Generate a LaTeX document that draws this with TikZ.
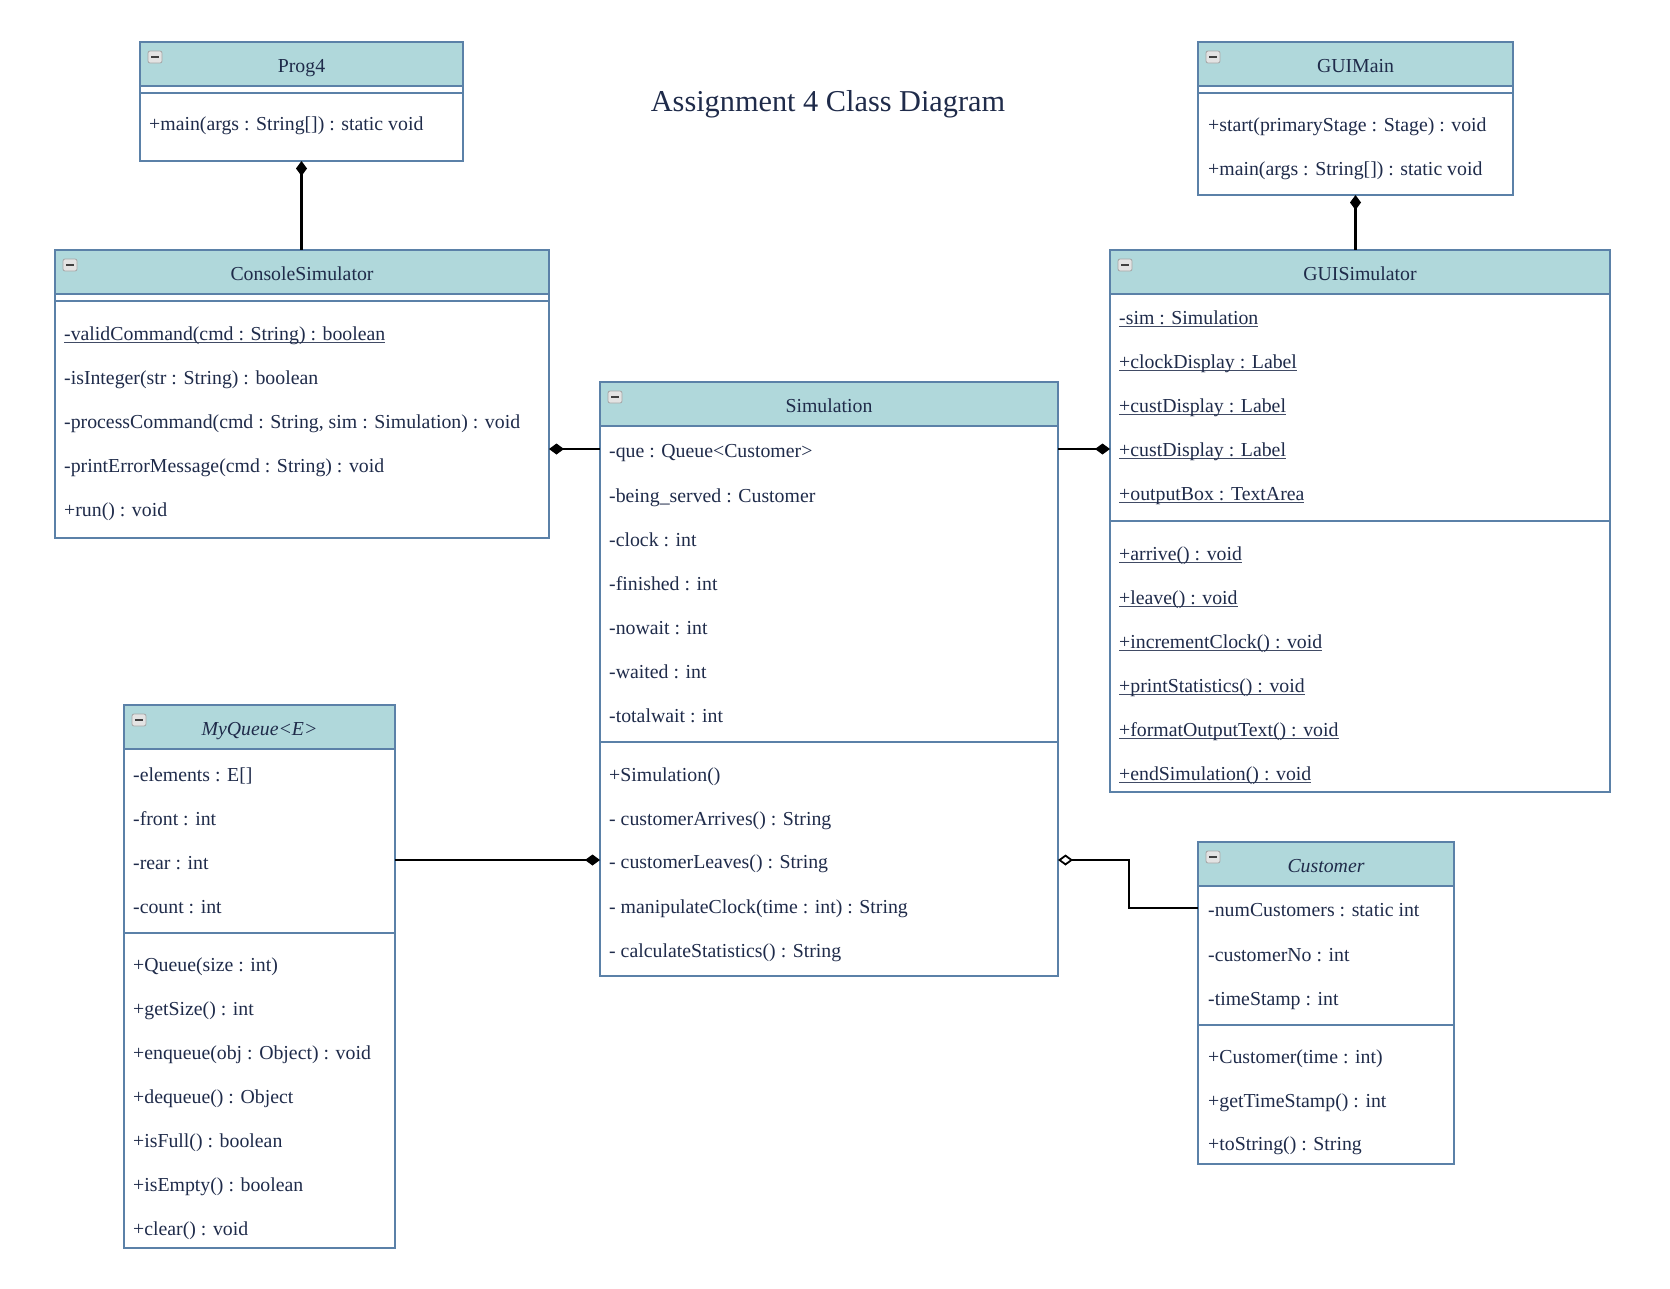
\documentclass[tikz,border=0pt]{standalone}
\usepackage{fontspec}
\setmainfont{Liberation Serif}
\usetikzlibrary{arrows.meta,calc}
\definecolor{hdrc}{HTML}{B0D8DB}
\definecolor{bdr}{HTML}{5B81A8}
\definecolor{txt}{HTML}{1F2B4A}
\newcommand\ulx[1]{\setbox0=\hbox{#1}\rlap{\color{txt!85}\rule[-3pt]{\wd0}{1.1pt}}\box0}
\begin{document}
\begin{tikzpicture}[x=1pt,y=-1pt,
  every node/.style={text=txt},
  box/.style={draw=bdr, line width=1.8pt, fill=white, anchor=north west, inner sep=0pt, outer sep=0pt},
  hdr/.style={draw=bdr, line width=1.8pt, fill=hdrc, anchor=north west, inner sep=0pt, outer sep=0pt, minimum height=44pt},
  cname/.style={font=\fontsize{19.8}{24}\selectfont, inner sep=0pt, text height=17pt, text depth=1pt},
  row/.style={font=\fontsize{19.8}{24}\selectfont, anchor=west, inner sep=0pt, text height=17pt, text depth=1pt},
  sepline/.style={draw=bdr, line width=1.8pt},
  minus/.style={draw=gray!70, fill=gray!22, line width=0.8pt, rounded corners=2pt, minimum width=14pt, minimum height=12pt, inner sep=0pt,
    path picture={\draw[line width=2pt, black!75] ([xshift=3pt]path picture bounding box.west) -- ([xshift=-3pt]path picture bounding box.east);}},
  conn/.style={draw=black, line width=2.2pt},
  comps/.style={conn, {Diamond[length=15pt,width=11pt]}-},
  compe/.style={conn, -{Diamond[length=15pt,width=11pt]}},
  aggs/.style={conn, {Diamond[open,fill=white,length=15pt,width=11pt,line width=1.8pt]}-}
]
\useasboundingbox[fill=white] (0,0) rectangle (1670,1288);

% Title
\node[font=\fontsize{30.3}{36}\selectfont, inner sep=0pt] (title) at (828,104) {Assignment 4 Class Diagram};

% ---------- Prog4 ----------
\node[box, minimum width=323pt, minimum height=119pt] (prog4) at (140,42) {};
\node[hdr, minimum width=323pt] (prog4h) at (140,42) {};
\node[cname] (prog4n) at (prog4h.center) {Prog4};
\node[minus] (prog4m) at ($(prog4.north west)+(15,15)$) {};
\draw[sepline] (140,93) -- (463,93);
\node[row] (prog4r1) at (149,122) {+main(args : String[]) : static void};

% ---------- GUIMain ----------
\node[box, minimum width=315pt, minimum height=153pt] (guimain) at (1198,42) {};
\node[hdr, minimum width=315pt] (guimainh) at (1198,42) {};
\node[cname] (guimainn) at (guimainh.center) {GUIMain};
\node[minus] (guimainm) at ($(guimain.north west)+(15,15)$) {};
\draw[sepline] (1198,93) -- (1513,93);
\node[row] (guimainr1) at (1208,123) {+start(primaryStage : Stage) : void};
\node[row] (guimainr2) at (1208,167) {+main(args : String[]) : static void};

% ---------- ConsoleSimulator ----------
\node[box, minimum width=494pt, minimum height=288pt] (console) at (55,250) {};
\node[hdr, minimum width=494pt] (consoleh) at (55,250) {};
\node[cname] (consolen) at (consoleh.center) {ConsoleSimulator};
\node[minus] (consolem) at ($(console.north west)+(15,15)$) {};
\draw[sepline] (55,301) -- (549,301);
\node[row] (conr1) at (64,332) {\ulx{-validCommand(cmd : String) : boolean}};
\node[row] (conr2) at (64,376) {-isInteger(str : String) : boolean};
\node[row] (conr3) at (64,420) {-processCommand(cmd : String, sim : Simulation) : void};
\node[row] (conr4) at (64,464) {-printErrorMessage(cmd : String) : void};
\node[row] (conr5) at (64,508) {+run() : void};

% ---------- Simulation ----------
\node[box, minimum width=458pt, minimum height=594pt] (sim) at (600,382) {};
\node[hdr, minimum width=458pt] (simh) at (600,382) {};
\node[cname] (simn) at (simh.center) {Simulation};
\node[minus] (simm) at ($(sim.north west)+(15,15)$) {};
\node[row] (simque) at (609,449) {-que : Queue<Customer>};
\node[row] (simr2) at (609,494) {-being\_served : Customer};
\node[row] (simr3) at (609,538) {-clock : int};
\node[row] (simr4) at (609,582) {-finished : int};
\node[row] (simr5) at (609,626) {-nowait : int};
\node[row] (simr6) at (609,670) {-waited : int};
\node[row] (simr7) at (609,714) {-totalwait : int};
\draw[sepline] (600,742) -- (1058,742);
\node[row] (simm1) at (609,773) {+Simulation()};
\node[row] (simm2) at (609,817) {- customerArrives() : String};
\node[row] (simleaves) at (609,860) {- customerLeaves() : String};
\node[row] (simm4) at (609,905) {- manipulateClock(time : int) : String};
\node[row] (simm5) at (609,949) {- calculateStatistics() : String};

% ---------- GUISimulator ----------
\node[box, minimum width=500pt, minimum height=542pt] (guisim) at (1110,250) {};
\node[hdr, minimum width=500pt] (guisimh) at (1110,250) {};
\node[cname] (guisimn) at (guisimh.center) {GUISimulator};
\node[minus] (guisimm) at ($(guisim.north west)+(15,15)$) {};
\node[row] (gr1) at (1119,316) {\ulx{-sim : Simulation}};
\node[row] (gr2) at (1119,360) {\ulx{+clockDisplay : Label}};
\node[row] (gr3) at (1119,404) {\ulx{+custDisplay : Label}};
\node[row] (gr4) at (1119,448) {\ulx{+custDisplay : Label}};
\node[row] (gr5) at (1119,492) {\ulx{+outputBox : TextArea}};
\draw[sepline] (1110,521) -- (1610,521);
\node[row] (gm1) at (1119,552) {\ulx{+arrive() : void}};
\node[row] (gm2) at (1119,596) {\ulx{+leave() : void}};
\node[row] (gm3) at (1119,640) {\ulx{+incrementClock() : void}};
\node[row] (gm4) at (1119,684) {\ulx{+printStatistics() : void}};
\node[row] (gm5) at (1119,728) {\ulx{+formatOutputText() : void}};
\node[row] (gm6) at (1119,772) {\ulx{+endSimulation() : void}};

% ---------- MyQueue ----------
\node[box, minimum width=271pt, minimum height=543pt] (myq) at (124,705) {};
\node[hdr, minimum width=271pt] (myqh) at (124,705) {};
\node[cname, font=\fontsize{19.8}{24}\selectfont\itshape] (myqn) at (myqh.center) {MyQueue<E>};
\node[minus] (myqm) at ($(myq.north west)+(15,15)$) {};
\node[row] (qr1) at (133,773) {-elements : E[]};
\node[row] (qr2) at (133,817) {-front : int};
\node[row] (qr3) at (133,861) {-rear : int};
\node[row] (qr4) at (133,905) {-count : int};
\draw[sepline] (124,933) -- (395,933);
\node[row] (qm1) at (133,963) {+Queue(size : int)};
\node[row] (qm2) at (133,1007) {+getSize() : int};
\node[row] (qm3) at (133,1051) {+enqueue(obj : Object) : void};
\node[row] (qm4) at (133,1095) {+dequeue() : Object};
\node[row] (qm5) at (133,1139) {+isFull() : boolean};
\node[row] (qm6) at (133,1183) {+isEmpty() : boolean};
\node[row] (qm7) at (133,1227) {+clear() : void};

% ---------- Customer ----------
\node[box, minimum width=256pt, minimum height=322pt] (cust) at (1198,842) {};
\node[hdr, minimum width=256pt] (custh) at (1198,842) {};
\node[cname, font=\fontsize{19.8}{24}\selectfont\itshape] (custn) at (custh.center) {Customer};
\node[minus] (custm) at ($(cust.north west)+(15,15)$) {};
\node[row] (custnum) at (1208,908) {-numCustomers : static int};
\node[row] (cr2) at (1208,953) {-customerNo : int};
\node[row] (cr3) at (1208,997) {-timeStamp : int};
\draw[sepline] (1198,1025) -- (1454,1025);
\node[row] (cm1) at (1208,1055) {+Customer(time : int)};
\node[row] (cm2) at (1208,1099) {+getTimeStamp() : int};
\node[row] (cm3) at (1208,1142) {+toString() : String};

% ---------- Connectors ----------
\draw[comps] (prog4.south) -- (prog4.south |- console.north);
\draw[comps] (guimain.south) -- (guimain.south |- guisim.north);
\draw[comps] (console.east |- simque) -- (sim.west |- simque);
\draw[compe] (sim.east |- simque) -- (guisim.west |- simque);
\draw[compe] (myq.east |- simleaves) -- (sim.west |- simleaves);
\draw[aggs] (sim.east |- simleaves) -- ++(71,0) |- (cust.west |- custnum);
\end{tikzpicture}
\end{document}
